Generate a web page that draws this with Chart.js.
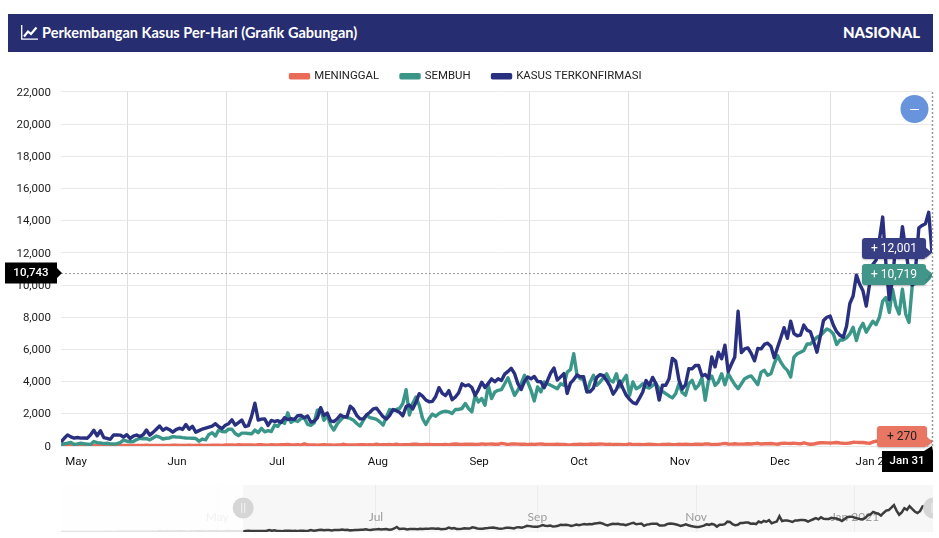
<!DOCTYPE html>
<html>
<head>
<meta charset="utf-8">
<title>Perkembangan Kasus Per-Hari</title>
<script src="https://cdn.jsdelivr.net/npm/chart.js@4"></script>
<style>
  body { margin: 0; background: #fff; width: 939px; height: 538px; overflow: hidden; font-family: Lato, sans-serif; }
  #head { position: absolute; left: 8px; top: 14px; width: 925px; height: 38px; background: #272d71; color: #fff; font-weight: 700; font-size: 14.5px; line-height: 37px; }
  #head svg { position: absolute; left: 13px; top: 11px; }
  #head .title { position: absolute; left: 34px; }
  #head .scope { position: absolute; right: 13px; font-weight: 900; font-size: 15px; }
  #main { position: absolute; left: 0; top: 0; }
  #overview { position: absolute; left: 61px; top: 485px; }
</style>
</head>
<body>
<div id="head">
  <svg width="17" height="15" viewBox="0 0 17 15"><path d="M0.7 0V14.2H17" fill="none" stroke="#fff" stroke-width="1.3"/><path d="M3 11.5L7 6.5L10 9L15.5 2.5" fill="none" stroke="#fff" stroke-width="2.2"/></svg>
  <span class="title">Perkembangan Kasus Per-Hari (Grafik Gabungan)</span>
  <span class="scope">NASIONAL</span>
</div>
<canvas id="main" width="939" height="480"></canvas>
<canvas id="overview" width="872" height="47"></canvas>
<script>
// daily values from 11 May 2020 to 31 Jan 2021 (index = day number)
let meninggal = [
  20,21,16,18,20,25,30,22,30,21,28,31,35,22,20,33,24,23,28,40,
  40,38,35,40,28,40,48,32,40,30,41,34,35,39,50,45,38,30,34,45,
  35,36,58,40,35,37,50,45,51,40,58,
  61,62,50,82,64,70,68,58,52,76,87,58,50,87,60,71,84,76,96,65,
  72,87,57,139,69,60,60,57,70,74,64,
  67,50,66,73,106,64,72,65,62,79,79,73,78,65,118,63,85,79,92,72,
  118,73,82,80,86,105,114,92,82,92,100,
  82,85,84,87,104,72,109,123,106,100,112,118,109,96,92,135,112,114,124,105,
  106,160,128,87,128,130,116,109,105,86,
  117,95,116,125,106,93,102,104,113,102,100,80,72,98,102,116,100,95,120,106,
  112,128,118,96,109,89,92,101,85,82,128,
  78,104,93,85,97,106,101,85,63,102,94,110,85,78,118,98,110,93,78,110,
  108,96,128,134,82,95,104,130,162,126,
  118,137,116,119,127,143,126,150,168,126,136,140,155,131,110,156,178,165,155,178,
  145,139,200,143,110,120,170,205,210,194,185,
  198,220,185,170,160,187,230,225,220,215,190,160,250,300,280,230,210,230,260,290,
  250,260,340,290,300,340,300,280,310,300,270
];
let sembuh = [
  60,140,170,220,100,130,170,140,120,90,280,210,190,150,170,130,120,150,210,370,
  300,260,280,400,480,450,470,380,500,620,550,430,480,500,580,
  560,550,520,500,490,480,470,300,430,380,720,820,620,1000,900,
  880,1050,1040,780,650,800,800,780,760,990,830,1100,880,950,900,
  1300,1220,1550,1400,2060,1470,1600,1520,1700,1750,1350,1280,1430,2230,2270,1600,
  1900,1300,990,1360,1600,1810,1770,1710,1600,1400,
  1240,1600,1920,1770,1710,1650,1500,1300,1810,2270,
  2180,2270,2330,2640,3500,1920,2640,3050,2530,1710,
  1340,1710,1980,1850,2020,2120,2160,2120,2020,2270,
  2270,2330,2640,2330,2120,3150,2740,2950,2530,3770,
  2950,3360,3460,3500,3870,4240,3670,3150,3460,3870,
  4390,3980,3460,2800,3670,3360,3980,3870,3770,3670,
  3560,3870,3770,4590,4740,5730,4390,4180,4120,3360,
  3980,4390,3770,3980,4240,4490,4080,3980,4490,3670,
  4080,4390,3150,3980,3560,3670,3870,
  3670,3600,3770,3870,3560,3400,3250,3110,2990,3250,
  3870,3320,3150,3870,4080,3560,3770,4220,2840,4080,
  4350,3770,3980,4490,3810,4490,4140,3810,3560,3870,
  4180,4290,4350,4080,3810,4590,4700,4390,4490,5110,
  5620,5210,4900,4700,4290,5520,5730,5830,5930,6340,
  6340,6550,6760,6860,7070,7270,7170,6960,6300,6590,
  6590,6720,6960,7370,6550,7270,7620,7070,7420,7750,
  7540,8000,9000,9230,8300,9740,8700,8200,9740,8200,
  7680,10000,10100,10300,11000,10200,10400,10719
];
let kasus = [
  233,484,689,568,490,529,489,496,486,693,973,634,949,526,479,415,686,687,678,557,700,
  467,609,684,585,703,993,672,847,1043,1241,979,1111,1014,857,1017,1106,1031,1331,1041,1226,
  862,954,1051,1113,1178,1240,1385,1198,1082,1293,
  1385,1624,1301,1447,1607,1209,1268,1853,2657,1611,1671,1681,1282,1591,1522,1574,1462,1752,1639,1693,
  1655,1882,1906,1761,1868,1492,1525,1748,2381,1904,2040,
  1560,1519,1679,1922,1815,1815,2473,2277,1893,1687,1693,1942,2098,2307,2345,2081,1821,1673,1902,2266,
  2197,2090,1877,2447,2549,2306,2719,3250,3100,2858,2743,
  2775,3075,3622,3269,3128,3444,2880,3046,3307,3861,3737,3806,3636,3141,3507,3963,3635,3891,4168,3989,
  4176,4071,4465,4634,4823,4494,3874,3509,4002,4284,
  4174,4317,4007,3992,3622,4056,4538,4850,4094,4294,4497,3267,3906,4127,4411,4301,4301,3373,3373,3602,
  4267,4432,4369,4070,3732,3222,3520,4029,3565,3143,2897,
  2696,2618,2973,3356,4065,3778,4262,3880,2853,3779,3770,4173,5444,5272,4106,3535,3807,4798,4792,4998,
  4998,4360,4442,4192,5534,4917,5828,5418,6267,4617,
  5092,5533,8369,5803,6027,6089,5754,5292,6058,6033,6310,6388,6189,5489,6120,6725,7354,6689,7751,6982,
  6848,6894,7514,7199,7100,6500,5830,6800,7800,8000,8070,
  7500,7100,6877,6753,7445,8854,9321,10617,10046,9640,8692,10047,11278,11557,12818,14224,11287,9086,10365,12568,
  11703,13632,12191,10827,9994,11000,13550,13700,13802,14518,12001
];
// confirmed cases before the zoomed window, 2 Mar to 10 May 2020 (overview strip only)
let kasusAwal = [
  2,0,0,0,2,0,2,13,8,7,0,35,27,21,17,38,55,82,60,81,
  64,65,107,105,103,153,109,130,129,114,149,113,196,106,181,226,153,218,337,219,
  330,399,316,282,297,380,407,325,327,185,375,283,357,436,396,214,275,415,347,347,
  433,260,292,395,484,367,349,338,336,253
];

let monthLabels = ["May", "Jun", "Jul", "Aug", "Sep", "Oct", "Nov", "Dec", "Jan 2021"];
let monthLabelDays = [4.6, 35.3, 65.7, 96.4, 127.2, 157.6, 188.3, 218.7, 249];
let monthGridDays = [20.1, 50.5, 81.2, 112, 142.4, 172.8, 203.2, 234];
let overviewLabels = ["May", "Jul", "Sep", "Nov", "Jan 2021"];
let overviewDays = [60, 121, 183, 244, 305];

let hoverDay = 265;
let hoverDate = "Jan 31";
let hoverValue = 10743;

const tickFont = { family: "Roboto", size: 11.5 };

function makePoints(values) {
  return values.map((v, i) => ({ x: i, y: v }));
}

// rounded box with a small pointer towards (px, py)
function drawTag(ctx, box, px, py, fill, text, textColor) {
  ctx.save();
  ctx.shadowColor = "rgba(0,0,0,0.25)";
  ctx.shadowBlur = 2;
  ctx.shadowOffsetY = 1;
  ctx.fillStyle = fill;
  ctx.beginPath();
  ctx.roundRect(box.x, box.y, box.w, box.h, box.r);
  ctx.moveTo(box.x + box.w, py - 5);
  ctx.lineTo(px, py);
  ctx.lineTo(box.x + box.w, py + 5);
  ctx.closePath();
  ctx.fill();
  ctx.shadowColor = "transparent";
  ctx.fillStyle = textColor;
  ctx.font = "12px Roboto";
  ctx.textAlign = "center";
  ctx.textBaseline = "middle";
  ctx.fillText(text, box.x + box.w / 2, box.y + box.h / 2 + 0.5);
  ctx.restore();
}

const legendFit = {
  id: "legendFit",
  beforeLayout(chart) {
    chart.legend.afterFit = function () { this.height = 41.5; };
  },
};

const cursorOverlay = {
  id: "cursorOverlay",
  afterDraw(chart) {
    const ctx = chart.ctx;
    const xs = chart.scales.x;
    const ys = chart.scales.y;
    const area = chart.chartArea;
    const cx = xs.getPixelForValue(hoverDay);
    const cy = ys.getPixelForValue(hoverValue);

    ctx.save();
    ctx.strokeStyle = "#9a9a9a";
    ctx.lineWidth = 1;
    ctx.setLineDash([2, 2]);
    ctx.beginPath();
    ctx.moveTo(area.left, cy + 0.5);
    ctx.lineTo(cx, cy + 0.5);
    ctx.stroke();
    ctx.lineWidth = 1.5;
    ctx.beginPath();
    ctx.moveTo(cx + 0.5, area.top);
    ctx.lineTo(cx + 0.5, area.bottom);
    ctx.stroke();
    ctx.restore();

    // zoom-out button
    ctx.save();
    ctx.fillStyle = "#6794dc";
    ctx.beginPath();
    ctx.arc(914.5, 109, 14, 0, Math.PI * 2);
    ctx.fill();
    ctx.strokeStyle = "#fff";
    ctx.lineWidth = 1;
    ctx.beginPath();
    ctx.moveTo(910, 109.5);
    ctx.lineTo(919, 109.5);
    ctx.stroke();
    ctx.restore();

    let last = hoverDay;
    drawTag(ctx, { x: 862, y: 238, w: 64, h: 21, r: 3 }, cx, ys.getPixelForValue(kasus[last]), "#383e83", "+ " + kasus[last].toLocaleString("en-US"), "#fff");
    drawTag(ctx, { x: 862, y: 264, w: 64, h: 21, r: 3 }, cx, ys.getPixelForValue(sembuh[last]), "#419689", "+ " + sembuh[last].toLocaleString("en-US"), "#fff");
    drawTag(ctx, { x: 877, y: 426, w: 50, h: 21, r: 3 }, cx, ys.getPixelForValue(meninggal[last]), "#e97563", "+ " + meninggal[last], "#222");

    // axis cursor labels
    ctx.save();
    ctx.fillStyle = "#000";
    ctx.beginPath();
    ctx.rect(5, cy - 10.5, 52, 21);
    ctx.moveTo(57, cy - 5);
    ctx.lineTo(62, cy);
    ctx.lineTo(57, cy + 5);
    ctx.closePath();
    ctx.rect(882, 451, 51, 21);
    ctx.moveTo(924, 451);
    ctx.lineTo(cx, 446);
    ctx.lineTo(933, 451);
    ctx.closePath();
    ctx.fill();
    ctx.fillStyle = "#fff";
    ctx.font = "500 11.5px Roboto";
    ctx.textAlign = "center";
    ctx.textBaseline = "middle";
    ctx.fillText(hoverValue.toLocaleString("en-US"), 31, cy + 0.5);
    ctx.fillText(hoverDate, 907, 461.5);
    ctx.restore();
  },
};

new Chart("main", {
  type: "line",
  data: {
    datasets: [
      { label: "MENINGGAL", data: makePoints(meninggal), borderColor: "#ea6c58", backgroundColor: "#ea6c58", order: 3 },
      { label: "SEMBUH", data: makePoints(sembuh), borderColor: "#3a9689", backgroundColor: "#3a9689", order: 2 },
      { label: "KASUS TERKONFIRMASI", data: makePoints(kasus), borderColor: "#2a3080", backgroundColor: "#2a3080", order: 1 },
    ],
  },
  options: {
    responsive: false,
    animation: false,
    layout: { padding: { top: 48.5, right: 7, left: 0, bottom: 0 } },
    elements: {
      point: { radius: 0 },
      line: { borderWidth: 3.4, tension: 0, borderJoinStyle: "round" },
    },
    scales: {
      x: {
        type: "linear",
        min: 0,
        max: hoverDay,
        border: { display: false },
        afterFit: (scale) => { scale.height = 34; },
        afterBuildTicks: (scale) => {
          scale.ticks = monthGridDays.concat(monthLabelDays).sort((a, b) => a - b).map((v) => ({ value: v }));
        },
        grid: {
          drawTicks: false,
          color: (c) => (c.tick && monthGridDays.includes(c.tick.value) ? "#dedede" : "transparent"),
        },
        ticks: {
          autoSkip: false,
          maxRotation: 0,
          padding: 9,
          color: "#111",
          font: tickFont,
          callback: (v) => {
            let i = monthLabelDays.indexOf(v);
            return i < 0 ? "" : monthLabels[i];
          },
        },
      },
      y: {
        min: 0,
        max: 22000,
        border: { display: false },
        afterFit: (scale) => { scale.width = 61; },
        grid: { drawTicks: false, color: "#e8e8e8" },
        ticks: {
          stepSize: 2000,
          padding: 10,
          labelOffset: 0.8,
          color: "#222",
          font: tickFont,
          callback: (v) => v.toLocaleString("en-US"),
        },
      },
    },
    plugins: {
      tooltip: { enabled: false },
      legend: {
        labels: {
          boxWidth: 18,
          boxHeight: 3,
          padding: 22,
          color: "#222",
          font: { family: "Roboto", size: 11.4 },
          sort: (a, b) => a.datasetIndex - b.datasetIndex,
        },
      },
    },
  },
  plugins: [legendFit, cursorOverlay],
});

// overview strip under the chart
const selStart = kasusAwal.length;

const stripOverlay = {
  id: "stripOverlay",
  beforeDraw(chart) {
    const ctx = chart.ctx;
    ctx.save();
    ctx.fillStyle = "#f7f7f7";
    ctx.fillRect(0, 0, chart.width, chart.height);
    ctx.restore();
  },
  beforeDatasetsDraw(chart) {
    const ctx = chart.ctx;
    const xs = chart.scales.x;
    ctx.save();
    ctx.fillStyle = "#9b9b9b";
    ctx.font = "12px Lato";
    ctx.textAlign = "center";
    ctx.textBaseline = "middle";
    overviewLabels.forEach((t, i) => ctx.fillText(t, xs.getPixelForValue(overviewDays[i]), 32));
    ctx.restore();
  },
  afterDraw(chart) {
    const ctx = chart.ctx;
    const xs = chart.scales.x;
    const sel = xs.getPixelForValue(selStart);
    ctx.save();
    ctx.fillStyle = "rgba(255,255,255,0.85)";
    ctx.fillRect(0, 0, sel, chart.height);
    [sel, xs.getPixelForValue(xs.max) + 0.5].forEach((hx) => {
      ctx.fillStyle = "#d6d6d6";
      ctx.beginPath();
      ctx.arc(hx, 23, 10.5, 0, Math.PI * 2);
      ctx.fill();
      ctx.fillStyle = "#f2f2f2";
      ctx.fillRect(hx - 2, 18, 1, 10);
      ctx.fillRect(hx + 1, 18, 1, 10);
    });
    ctx.restore();
  },
};

new Chart("overview", {
  type: "line",
  data: {
    datasets: [
      { data: makePoints(kasusAwal.concat(kasus)), borderColor: "#3c3c3c", borderWidth: 2.5, pointRadius: 0, tension: 0 },
    ],
  },
  options: {
    responsive: false,
    animation: false,
    layout: { padding: 0 },
    scales: {
      x: {
        type: "linear",
        min: 0,
        max: kasusAwal.length + hoverDay,
        border: { display: false },
        afterFit: (scale) => { scale.height = 0; },
        afterBuildTicks: (scale) => { scale.ticks = overviewDays.map((v) => ({ value: v })); },
        grid: { drawTicks: false, color: "#ececec" },
        ticks: { display: false },
      },
      y: { display: false, min: 0, max: 24800 },
    },
    plugins: { legend: { display: false }, tooltip: { enabled: false } },
  },
  plugins: [stripOverlay],
});
</script>
</body>
</html>
